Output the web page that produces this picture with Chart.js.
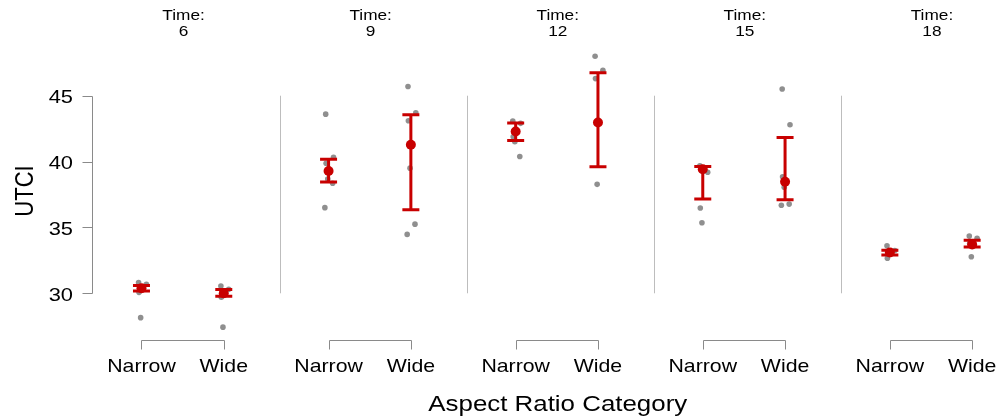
<!DOCTYPE html>
<html><head><meta charset="utf-8">
<script src="https://cdn.jsdelivr.net/npm/chart.js@4"></script>
<style>html,body{margin:0;padding:0;background:#fff}#wrap{width:1001px;height:419px}</style>
</head><body><div id="wrap"><canvas id="c" width="1001" height="419"></canvas></div>
<script>
// ---------- data ----------
const times = [6, 9, 12, 15, 18];
const categories = ['Narrow', 'Wide'];
const yTickValues = [30, 35, 40, 45];
const yTitle = 'UTCI';
const xTitle = 'Aspect Ratio Category';
const facetPrefix = 'Time:';

const narrowMean = [30.38, 39.29, 42.28, 39.42, 33.10];
const narrowLow  = [30.17, 38.45, 41.60, 37.16, 32.90];
const narrowHigh = [30.60, 40.18, 42.92, 39.62, 33.27];
const wideMean = [30.00, 41.27, 42.97, 38.47, 33.70];
const wideLow  = [29.77, 36.34, 39.60, 37.10, 33.52];
const wideHigh = [30.28, 43.55, 46.75, 41.83, 34.03];

const narrowObs = [
  [30.81, 30.68, 30.07, 28.15],
  [43.60, 40.33, 39.87, 38.68, 38.35, 36.50],
  [43.07, 42.90, 41.88, 41.50, 40.38],
  [39.67, 39.19, 36.47, 35.35],
  [33.60, 33.25, 32.66]
];
const wideObs = [
  [30.55, 30.30, 29.70, 27.43],
  [45.70, 43.70, 43.10, 39.50, 35.25, 34.47],
  [47.99, 46.93, 46.30, 38.27],
  [45.51, 42.79, 38.85, 38.05, 36.77, 36.68],
  [34.34, 34.18, 33.80, 32.77]
];

// ---------- layout / style constants ----------
const PANEL_W = 2.2734;          // x-units per facet panel
const X_MIN = 0.411, X_MAX = 11.444;
const Y_MIN = 26.454, Y_MAX = 49.229;
const JITTER = [-0.035, 0.06, -0.03, -0.01, 0.05, -0.045];
const SX = 1.15;
const FONT = "'Liberation Sans', Arial, Helvetica, sans-serif";
const RED = '#c80000';
const GRAY_PT = 'rgba(105,105,105,0.75)';

const means = [narrowMean, wideMean];
const lows = [narrowLow, wideLow];
const highs = [narrowHigh, wideHigh];
const obs = [narrowObs, wideObs];

function xOf(k, c) { return k * PANEL_W + c + 1; }

const rawPoints = [];
const meanPoints = [];
times.forEach((t, k) => {
  categories.forEach((cat, c) => {
    obs[c][k].forEach((v, j) => rawPoints.push({x: xOf(k, c) + JITTER[j % JITTER.length], y: v}));
    meanPoints.push({x: xOf(k, c), y: means[c][k]});
  });
});

function sText(ctx, text, x, y, size, align) {
  ctx.save();
  ctx.font = size + 'px ' + FONT;
  ctx.fillStyle = '#000';
  ctx.textAlign = align;
  ctx.textBaseline = 'alphabetic';
  ctx.translate(x, y);
  ctx.scale(SX, 1);
  ctx.fillText(text, 0, 0);
  ctx.restore();
}

const decor = {
  id: 'decor',
  beforeDatasetsDraw(chart) {
    const {ctx} = chart;
    const xs = chart.scales.x, ys = chart.scales.y;
    const yTop = ys.getPixelForValue(yTickValues[yTickValues.length - 1]);
    const yBot = ys.getPixelForValue(yTickValues[0]);
    ctx.save();
    // facet separators
    ctx.strokeStyle = '#bdbdbd';
    ctx.lineWidth = 1;
    for (let k = 1; k < times.length; k++) {
      const px = Math.round(xs.getPixelForValue(X_MIN + k * PANEL_W)) + 0.5;
      ctx.beginPath(); ctx.moveTo(px, yTop); ctx.lineTo(px, yBot); ctx.stroke();
    }
    // y axis
    ctx.strokeStyle = '#8a8a8a';
    const ax = chart.chartArea.left - 0.5;
    ctx.beginPath(); ctx.moveTo(ax, Math.round(yTop) + 0.5); ctx.lineTo(ax, Math.round(yBot) + 0.5); ctx.stroke();
    yTickValues.forEach(v => {
      const py = Math.round(ys.getPixelForValue(v)) + 0.5;
      ctx.beginPath(); ctx.moveTo(ax - 10, py); ctx.lineTo(ax, py); ctx.stroke();
    });
    // x brackets
    const by = chart.chartArea.bottom + 0.5;
    times.forEach((t, k) => {
      const x0 = Math.round(xs.getPixelForValue(xOf(k, 0))) + 0.5;
      const x1 = Math.round(xs.getPixelForValue(xOf(k, 1))) + 0.5;
      ctx.beginPath();
      ctx.moveTo(x0, by + 9); ctx.lineTo(x0, by); ctx.lineTo(x1, by); ctx.lineTo(x1, by + 9);
      ctx.stroke();
    });
    ctx.restore();
  },
  beforeDatasetDraw(chart, args) {
    if (args.index !== 0) return;
    const {ctx} = chart;
    const xs = chart.scales.x, ys = chart.scales.y;
    ctx.save();
    ctx.strokeStyle = RED;
    ctx.lineWidth = 3;
    times.forEach((t, k) => {
      categories.forEach((cat, c) => {
        const px = xs.getPixelForValue(xOf(k, c));
        const pl = ys.getPixelForValue(lows[c][k]);
        const ph = ys.getPixelForValue(highs[c][k]);
        ctx.beginPath();
        ctx.moveTo(px, pl); ctx.lineTo(px, ph);
        ctx.moveTo(px - 8.5, pl); ctx.lineTo(px + 8.5, pl);
        ctx.moveTo(px - 8.5, ph); ctx.lineTo(px + 8.5, ph);
        ctx.stroke();
      });
    });
    ctx.restore();
  },
  afterDraw(chart) {
    const {ctx} = chart;
    const xs = chart.scales.x, ys = chart.scales.y;
    // y tick labels
    yTickValues.forEach(v => {
      sText(ctx, String(v), 73, ys.getPixelForValue(v) + 7.5, 19, 'right');
    });
    // y title (rotated)
    ctx.save();
    ctx.font = '22px ' + FONT;
    ctx.fillStyle = '#000';
    ctx.textAlign = 'center';
    ctx.textBaseline = 'alphabetic';
    ctx.translate(33.3, (ys.getPixelForValue(yTickValues[0]) + ys.getPixelForValue(yTickValues[3])) / 2 - 3.5);
    ctx.scale(SX, 1);
    ctx.rotate(-Math.PI / 2);
    ctx.fillText(yTitle, 0, 0);
    ctx.restore();
    // category labels + facet titles
    times.forEach((t, k) => {
      categories.forEach((cat, c) => {
        sText(ctx, cat, xs.getPixelForValue(xOf(k, c)), 372.3, 18.5, 'center');
      });
      const cx = xs.getPixelForValue(X_MIN + (k + 0.5) * PANEL_W) - 3;
      sText(ctx, facetPrefix, cx, 20, 15, 'center');
      sText(ctx, String(t), cx, 35.7, 15, 'center');
    });
    // x title
    const mid = xs.getPixelForValue(X_MIN + times.length * PANEL_W / 2) - 3;
    sText(ctx, xTitle, mid, 410.7, 22.5, 'center');
  }
};

new Chart(document.getElementById('c'), {
  type: 'scatter',
  data: {
    datasets: [
      {
        label: 'Mean',
        data: meanPoints,
        backgroundColor: RED,
        borderColor: RED,
        pointRadius: 5,
        borderWidth: 0,
        order: 0
      },
      {
        label: 'Observations',
        data: rawPoints,
        backgroundColor: GRAY_PT,
        borderColor: GRAY_PT,
        pointRadius: 2.8,
        borderWidth: 0,
        order: 1
      }
    ]
  },
  options: {
    responsive: false,
    animation: false,
    devicePixelRatio: 1,
    layout: {autoPadding: false, padding: {left: 93, right: 0, top: 40, bottom: 79}},
    plugins: {legend: {display: false}, tooltip: {enabled: false}},
    scales: {
      x: {type: 'linear', min: X_MIN, max: X_MAX, display: false},
      y: {type: 'linear', min: Y_MIN, max: Y_MAX, display: false}
    }
  },
  plugins: [decor]
});
</script>
</body></html>
